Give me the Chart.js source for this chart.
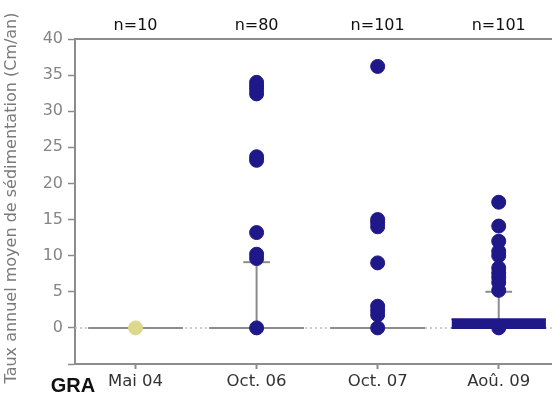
<!DOCTYPE html>
<html>
<head>
<meta charset="utf-8">
<script src="https://cdn.jsdelivr.net/npm/chart.js@4"></script>
<style>
  body { margin: 0; background: #fff; }
  #wrap { width: 552px; height: 399px; }
</style>
</head>
<body>
<div id="wrap"><canvas id="sedChart"></canvas></div>
<script>
// categories and sample sizes
const categories = ['Mai 04', 'Oct. 06', 'Oct. 07', 'Aoû. 09'];
const counts = ['n=10', 'n=80', 'n=101', 'n=101'];

// individual values (Cm/an)
const mai04 = [0];
const oct06 = [0, 9.6, 10.2, 13.2, 23.2, 23.7, 32.4, 33.0, 33.5, 34.0];
const oct07 = [0, 1.8, 2.4, 3.0, 9.0, 14.0, 14.6, 15.0, 36.2];
const aou09 = [0, 5.2, 6.3, 7.0, 7.6, 8.3, 10.0, 10.6, 12.0, 14.1, 17.4];

// box summaries
const q1 = [0, 0, 0, 0];
const q3 = [0, 0, 0, 1.2];
const whiskerTop = [0, 9.1, 0, 5.0];

const yTitle = 'Taux annuel moyen de sédimentation (Cm/an)';

const navy = '#1f1888';
const yellow = '#dcd98c';
const axisGrey = '#8c8c8c';
const boxHalf = 0.39;
const capHalf = 0.11;

const pts = (vals, i) => vals.map(v => ({ x: i, y: v }));

const datasets = [];
[mai04, oct06, oct07, aou09].forEach((vals, i) => {
    datasets.push({
        data: pts(vals, i),
        pointRadius: 7,
        pointBorderWidth: 1,
        pointBackgroundColor: i === 0 ? yellow : navy,
        pointBorderColor: i === 0 ? yellow : navy,
        showLine: false
    });
});

// boxes and whiskers
categories.forEach((c, i) => {
    const filled = q3[i] > q1[i];
    datasets.push({
        data: [{ x: i - boxHalf, y: q3[i] }, { x: i + boxHalf, y: q3[i] }],
        showLine: true, pointRadius: 0,
        borderColor: filled ? navy : axisGrey, borderWidth: 2,
        backgroundColor: navy,
        fill: filled ? '+1' : false
    });
    datasets.push({
        data: [{ x: i - boxHalf, y: q1[i] }, { x: i + boxHalf, y: q1[i] }],
        showLine: true, pointRadius: 0,
        borderColor: filled ? navy : axisGrey, borderWidth: 2,
        fill: false
    });
    if (whiskerTop[i] > q3[i]) {
        datasets.push({
            data: [{ x: i, y: q3[i] }, { x: i, y: whiskerTop[i] }],
            showLine: true, pointRadius: 0,
            borderColor: axisGrey, borderWidth: 2, fill: false
        });
        datasets.push({
            data: [{ x: i - capHalf, y: whiskerTop[i] }, { x: i + capHalf, y: whiskerTop[i] }],
            showLine: true, pointRadius: 0,
            borderColor: axisGrey, borderWidth: 2, fill: false
        });
    }
});

const xMin = -0.5, xMax = 3.44;

// dotted zero line through the whole plot
datasets.push({
    data: [{ x: xMin, y: 0 }, { x: xMax, y: 0 }],
    showLine: true, pointRadius: 0,
    borderColor: '#bdbdbd', borderWidth: 1.5, borderDash: [2, 3], fill: false
});

const noPad = s => { s.paddingLeft = 0; s.paddingRight = 0; };

const extraText = {
    id: 'extraText',
    afterDraw(chart) {
        const ctx = chart.ctx;
        const y = chart.scales.y;
        // short minor ticks
        ctx.save();
        ctx.strokeStyle = axisGrey;
        ctx.lineWidth = 1.5;
        y.ticks.forEach(t => {
            if (t.value % 5 !== 0) {
                const py = Math.round(y.getPixelForValue(t.value)) + 0.5;
                ctx.beginPath();
                ctx.moveTo(y.right - 4, py);
                ctx.lineTo(y.right, py);
                ctx.stroke();
            }
        });
        ctx.restore();

        ctx.save();
        ctx.fillStyle = '#7a7a7a';
        ctx.font = '16px "DejaVu Sans"';
        ctx.textAlign = 'center';
        ctx.textBaseline = 'middle';
        ctx.translate(12, 198);
        ctx.rotate(-Math.PI / 2);
        ctx.fillText(yTitle, 0, 0);
        ctx.restore();

        ctx.save();
        ctx.fillStyle = '#111';
        ctx.font = 'bold 20px "Liberation Sans"';
        ctx.textAlign = 'center';
        ctx.textBaseline = 'middle';
        ctx.fillText('GRA', 73, 386);
        ctx.restore();
    }
};

new Chart(document.getElementById('sedChart'), {
    type: 'scatter',
    data: { datasets: datasets },
    options: {
        responsive: true,
        maintainAspectRatio: false,
        animation: false,
        layout: { padding: 0, autoPadding: false },
        plugins: {
            legend: { display: false },
            tooltip: { enabled: false }
        },
        scales: {
            x: {
                type: 'linear',
                position: 'bottom',
                min: xMin, max: xMax,
                afterBuildTicks: s => { s.ticks = categories.map((c, i) => ({ value: i })); },
                afterFit: s => { s.height = 35; noPad(s); },
                ticks: {
                    callback: (v, i) => categories[i],
                    autoSkip: false, maxRotation: 0,
                    color: '#333',
                    font: { family: 'DejaVu Sans', size: 16.5 },
                    padding: 3
                },
                grid: { drawOnChartArea: false, tickLength: 5, tickColor: axisGrey, tickWidth: 2 },
                border: { color: axisGrey, width: 2 }
            },
            x2: {
                type: 'linear',
                position: 'top',
                min: xMin, max: xMax,
                afterBuildTicks: s => { s.ticks = counts.map((c, i) => ({ value: i })); },
                afterFit: s => { s.height = 39; noPad(s); },
                ticks: {
                    callback: (v, i) => counts[i],
                    autoSkip: false, maxRotation: 0,
                    color: '#111',
                    font: { family: 'DejaVu Sans', size: 16 },
                    padding: 4
                },
                grid: { drawOnChartArea: false, drawTicks: false },
                border: { color: axisGrey, width: 2 }
            },
            y: {
                min: -5, max: 40,
                afterFit: s => { s.width = 75; s.paddingTop = 0; s.paddingBottom = 0; },
                ticks: {
                    stepSize: 2.5,
                    callback: v => (v >= 0 && v % 5 === 0) ? v : '',
                    color: '#858585',
                    font: { family: 'DejaVu Sans', size: 16 },
                    padding: 5
                },
                grid: {
                    drawOnChartArea: false, tickLength: 7, tickWidth: 1.5,
                    tickColor: c => (c.tick && c.tick.value % 5 === 0) ? axisGrey : 'rgba(0,0,0,0)'
                },
                border: { color: axisGrey, width: 2 }
            }
        }
    },
    plugins: [extraText]
});
</script>
</body>
</html>
